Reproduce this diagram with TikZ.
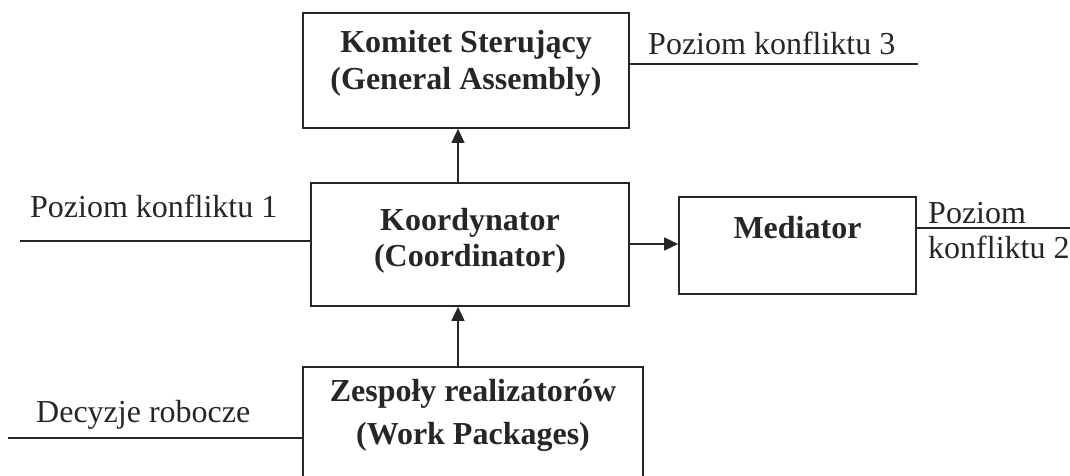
\documentclass[tikz,border=0pt]{standalone}
\usepackage{fontspec}
\setmainfont{Liberation Serif}
\usetikzlibrary{arrows.meta}
\definecolor{ink}{HTML}{262626}
\begin{document}
\begin{tikzpicture}[x=1pt,y=-1pt,
  box/.style={draw=ink, line width=1.7pt, inner sep=0pt, fill=none},
  lbl/.style={inner sep=0pt, anchor=base west, font=\fontsize{32}{37}\selectfont, text=ink},
  ttl/.style={inner sep=0pt, anchor=base, font=\bfseries\fontsize{32}{37}\selectfont, text=ink},
  conn/.style={draw=ink, line width=1.6pt},
  arr/.style={conn, -{Triangle[length=14pt,width=13pt]}}]
\useasboundingbox (0,0) rectangle (1070,476);
\clip (0,0) rectangle (1070,476);
% boxes
\node[box, minimum width=326pt, minimum height=115pt] (komitet) at (466,70.5) {};
\node[box, minimum width=318pt, minimum height=123pt] (koord) at (470,244.5) {};
\node[box, minimum width=237pt, minimum height=97pt] (mediator) at (797.5,245.5) {};
\node[box, minimum width=340pt, minimum height=123pt] (zespoly) at (473,428.5) {};
% titles
\node[ttl] (t1a) at (466,53) {Komitet Sterujący};
\node[ttl] (t1b) at (466,90) {(General Assembly)};
\node[ttl] (t2a) at (470,230) {Koordynator};
\node[ttl] (t2b) at (470,266) {(Coordinator)};
\node[ttl] (t3) at (797.5,238) {Mediator};
\node[ttl] (t4a) at (473,401) {Zespoły realizatorów};
\node[ttl] (t4b) at (473,444) {(Work Packages)};
% side labels
\node[lbl] (l3) at (648,55) {Poziom konfliktu 3};
\node[lbl] (l1) at (30,217) {Poziom konfliktu 1};
\node[lbl] (l2a) at (928,223) {Poziom};
\node[lbl] (l2b) at (928,258) {konfliktu 2};
\node[lbl] (l0) at (36,422) {Decyzje robocze};
% free ends
\coordinate (e3) at (918,64);
\coordinate (e1) at (20,241);
\coordinate (e2) at (1070,228);
\coordinate (e0) at (8,438);
\coordinate (ax) at (458,0);
\coordinate (ay) at (0,244);
% connectors
\draw[conn] (komitet.east |- e3) -- (e3);
\draw[conn] (e1) -- (koord.west |- e1);
\draw[conn] (mediator.east |- e2) -- (e2);
\draw[conn] (e0) -- (zespoly.west |- e0);
\draw[arr] (koord.north -| ax) -- (komitet.south -| ax);
\draw[arr] (zespoly.north -| ax) -- (koord.south -| ax);
\draw[arr] (koord.east |- ay) -- (mediator.west |- ay);
\end{tikzpicture}
\end{document}
